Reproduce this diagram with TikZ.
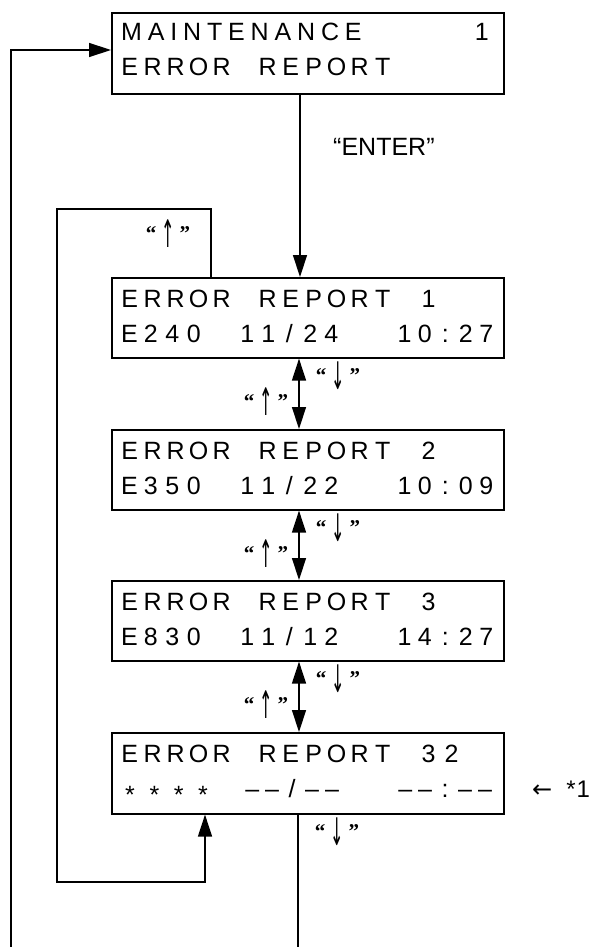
\documentclass[tikz,border=0pt]{standalone}
\usepackage{fontspec}
\usepackage{graphicx}
\setmainfont{Liberation Sans}
\newfontfamily\trk[LetterSpace=23.4]{Liberation Sans}
\newfontfamily\qserif{Liberation Serif}
\newfontfamily\symf{DejaVu Sans}
\usetikzlibrary{arrows.meta,calc}
\ExplSyntaxOn
\NewDocumentCommand\lcdrow{O{23}m}{\str_map_inline:nn {#2} {\makebox[#1pt][c]{##1}}}
\ExplSyntaxOff
\newcommand\qo{{\qserif\bfseries\fontsize{21}{24}\selectfont “}}
\newcommand\qc{{\qserif\bfseries\fontsize{21}{24}\selectfont ”}}
\newcommand\keyup{\qo\kern5pt\raisebox{-7pt}{\scalebox{0.8}[1.9]{\symf\fontsize{20}{22}\selectfont ↑}}\kern5pt\qc}
\newcommand\keydown{\qo\kern5pt\raisebox{-7pt}{\scalebox{0.8}[1.9]{\symf\fontsize{20}{22}\selectfont ↓}}\kern5pt\qc}
\begin{document}
\begin{tikzpicture}[x=1pt,y=-1pt,
  box/.style={draw,line width=1.6pt,rectangle,inner sep=0pt,anchor=north west,minimum width=392pt},
  txt/.style={anchor=base west,inner sep=0pt,font=\fontsize{25}{30}\selectfont},
  key/.style={inner sep=0pt},
  wire/.style={line width=1.4pt},
  >={Triangle[length=22pt,width=14pt]}]
\useasboundingbox[fill=white] (0,0) rectangle (598,947);
% boxes
\node[box,minimum height=81pt] (b0) at (111,12) {};
\node[box,minimum height=80pt] (b1) at (111,277) {};
\node[box,minimum height=80pt] (b2) at (111,429) {};
\node[box,minimum height=80pt] (b3) at (111,580) {};
\node[box,minimum height=81pt] (b4) at (111,732) {};
% texts
\node[txt,font=\trk\fontsize{25}{30}\selectfont] (t0a) at (121,41) {MAINTENANCE};
\node[txt] (t0n) at (470,41) {\lcdrow{1}};
\node[txt] (t0b) at (118,76) {\lcdrow{ERROR REPORT}};
\node[txt] (t1a) at (118,307) {\lcdrow{ERROR REPORT 1}};
\node[txt] (t1b) at (118.5,342) {\lcdrow[21.5]{E240}};
\node[txt] (t1c) at (236.7,342) {\lcdrow[21]{11/24}};
\node[txt] (t1d) at (394,342) {\lcdrow[20.5]{10:27}};
\node[txt] (t2a) at (118,459) {\lcdrow{ERROR REPORT 2}};
\node[txt] (t2b) at (118.5,494) {\lcdrow[21.5]{E350}};
\node[txt] (t2c) at (236.7,494) {\lcdrow[21]{11/22}};
\node[txt] (t2d) at (394,494) {\lcdrow[20.5]{10:09}};
\node[txt] (t3a) at (118,610) {\lcdrow{ERROR REPORT 3}};
\node[txt] (t3b) at (118.5,645) {\lcdrow[21.5]{E830}};
\node[txt] (t3c) at (236.7,645) {\lcdrow[21]{11/12}};
\node[txt] (t3d) at (394,645) {\lcdrow[20.5]{14:27}};
\node[txt] (t4a) at (118,762) {\lcdrow{ERROR REPORT 32}};
\node[txt] (t4b) at (125,803) {*\kern14.6pt*\kern14.6pt*\kern14.6pt*};
\node[txt] (t4c) at (242,797) {\lcdrow[20]{––/––}};
\node[txt] (t4d) at (395,797) {\lcdrow[20]{––:––}};
\node[anchor=base west,inner sep=0pt,font=\fontsize{24}{28}\selectfont] (n1) at (532,797) {{\symf ←}\kern14pt*\kern1pt1};
\node[anchor=base west,inner sep=0pt,font=\fontsize{25}{30}\selectfont] (enter) at (333,155) {“ENTER”};
% key labels
\node[key] (k0) at (168,234) {\keyup};
\node[key] (d1) at (338,376) {\keydown};
\node[key] (u1) at (266,402) {\keyup};
\node[key] (d2) at (338,528) {\keydown};
\node[key] (u2) at (266,554) {\keyup};
\node[key] (d3) at (338,679) {\keydown};
\node[key] (u3) at (266,705) {\keyup};
\node[key] (d4) at (337,832) {\keydown};
% free ends
\coordinate (botL) at (11,947);
\coordinate (botM) at (298,947);
% connectors
\draw[wire,->] (botL) -- (11,50) -- (b0.west |- 0,50);
\draw[wire,->] (b0.south -| 300,0) -- (b1.north -| 300,0);
\draw[wire,<->] (b1.south -| 299,0) -- (b2.north -| 299,0);
\draw[wire,<->] (b2.south -| 299,0) -- (b3.north -| 299,0);
\draw[wire,<->] (b3.south -| 299,0) -- (b4.north -| 299,0);
\draw[wire,->] (b1.north -| 211,0) -- (211,209) -- (57,209) -- (57,882) -- (205,882) -- (b4.south -| 205,0);
\draw[wire] (b4.south -| 298,0) -- (botM);
\end{tikzpicture}
\end{document}
